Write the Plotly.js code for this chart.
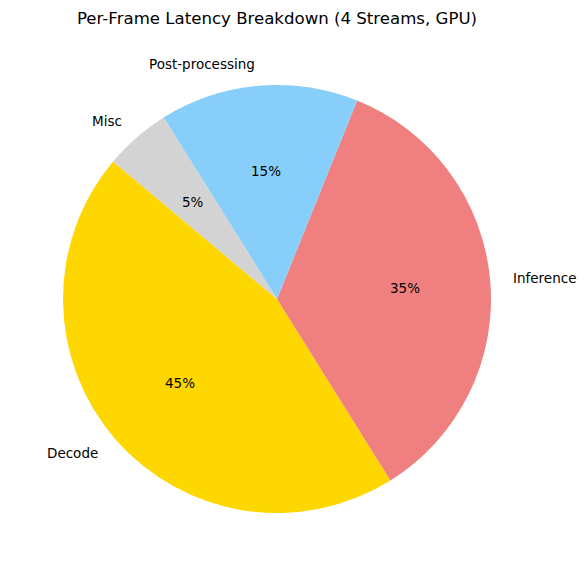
<!DOCTYPE html>
<html>
<head>
<meta charset="utf-8">
<script src="https://cdn.plot.ly/plotly-3.0.1.min.js"></script>
<style>html,body{margin:0;padding:0;background:#fff;}</style>
</head>
<body>
<div id="chart" style="width:587px;height:577px;"></div>
<script>
const labels = ["Decode", "Inference", "Post-processing", "Misc"];
const values = [45, 35, 15, 5];
const colors = ["#FFD700", "#F08080", "#87CEFA", "#D3D3D3"];
const startAngle = 140; // degrees, counterclockwise from 3 o'clock

const total = values.reduce((a, b) => a + b, 0);
const annotations = [];
let cum = startAngle;
const FONT = "DejaVu Sans, sans-serif";
values.forEach((v, i) => {
  const span = v / total * 360;
  const mid = (cum + span / 2) * Math.PI / 180;
  cum += span;
  const cx = Math.cos(mid), cy = Math.sin(mid);
  annotations.push({
    xref: "paper", yref: "paper",
    x: 0.5 + 0.5 * 1.1 * cx, y: 0.5 + 0.5 * 1.1 * cy,
    text: labels[i], showarrow: false,
    xanchor: cx > 0 ? "left" : "right", yanchor: "middle",
    xshift: cx > 0 ? -1 : 1,
    font: {family: FONT, size: 13.5, color: "#000000"}
  });
  annotations.push({
    xref: "paper", yref: "paper",
    x: 0.5 + 0.5 * 0.6 * cx, y: 0.5 + 0.5 * 0.6 * cy,
    text: Math.round(v / total * 100) + "%", showarrow: false,
    xanchor: "center", yanchor: "middle",
    font: {family: FONT, size: 13.5, color: "#000000"}
  });
});

// Plotly (counterclockwise) places the END of the first slice at the rotation angle
let rot = 90 - startAngle - values[0] / total * 360;
while (rot < -360) rot += 360;
while (rot > 360) rot -= 360;

const trace = {
  type: "pie",
  labels: labels,
  values: values,
  marker: {colors: colors, line: {width: 0}},
  sort: false,
  direction: "counterclockwise",
  rotation: rot,
  textinfo: "none",
  hoverinfo: "label+percent",
  showlegend: false
};

const layout = {
  width: 587, height: 577,
  margin: {l: 63, r: 96, t: 85, b: 64, pad: 0},
  paper_bgcolor: "#ffffff",
  plot_bgcolor: "#ffffff",
  showlegend: false,
  title: {
    text: "Per-Frame Latency Breakdown (4 Streams, GPU)",
    font: {family: FONT, size: 16.6, color: "#000000"},
    xref: "paper", x: 0.5, xanchor: "center",
    yref: "container", y: 1 - 18 / 577, yanchor: "middle"
  },
  annotations: annotations
};

Plotly.newPlot("chart", [trace], layout, {displayModeBar: false, staticPlot: true});
</script>
</body>
</html>
